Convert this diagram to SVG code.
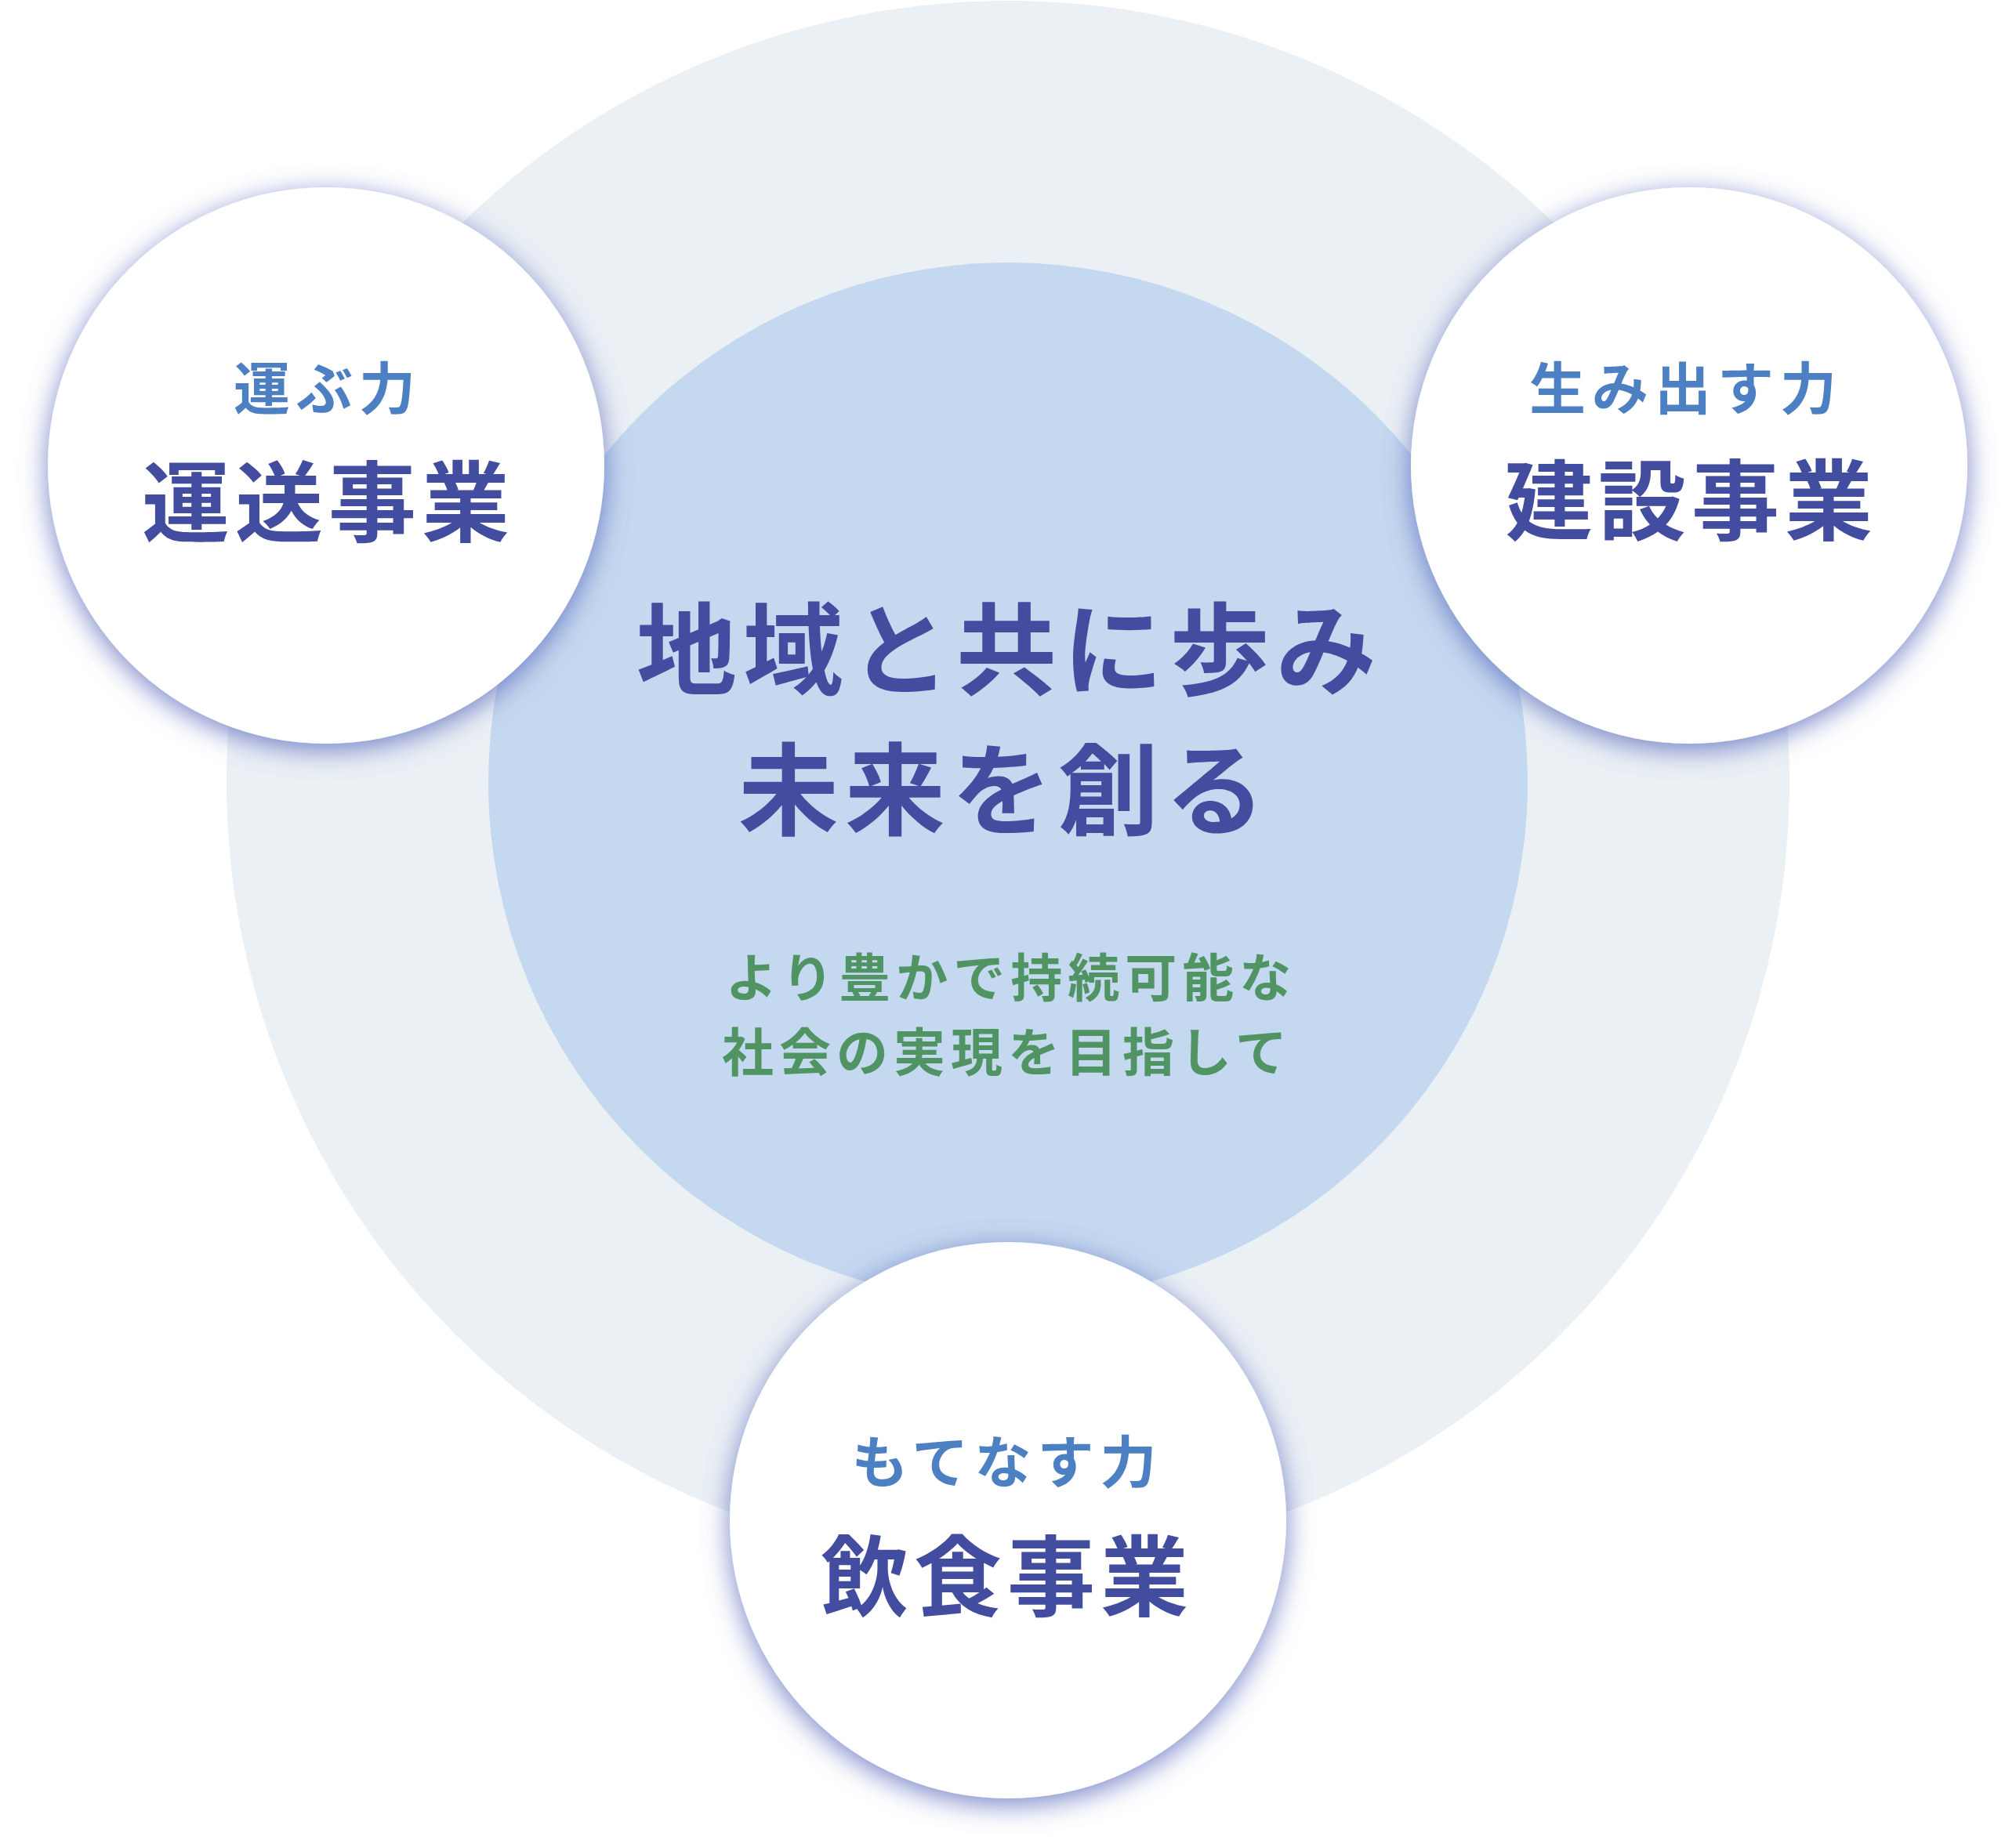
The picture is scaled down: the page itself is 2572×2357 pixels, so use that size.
<svg xmlns="http://www.w3.org/2000/svg" width="2572" height="2357" viewBox="0 0 2572 2357">
  <defs>
    <filter id="glow" x="-30%" y="-30%" width="160%" height="160%">
      <feDropShadow dx="0" dy="8" stdDeviation="17" flood-color="#5668BC" flood-opacity="0.8"/>
    </filter>
  </defs>
  <style>
    .jp { font-family: "Noto Sans CJK JP", "Noto Sans CJK SC", sans-serif; font-weight: 700; text-anchor: middle; }
    .sub { font-size: 72px; fill: #4D80C2; letter-spacing: 8px; }
    .main { font-size: 112px; fill: #424D9F; letter-spacing: 7px; }
    .title { font-size: 128px; fill: #424D9F; letter-spacing: 8px; }
    .green { font-size: 66px; fill: #4F9462; letter-spacing: 7px; }
    .node { fill: #FFFFFF; filter: url(#glow); }
  </style>
  <rect width="2572" height="2357" fill="#FFFFFF"/>
  <g id="background">
    <circle cx="1286" cy="998" r="997" fill="#EBF0F5"/>
  </g>
  <g id="center">
    <circle cx="1286" cy="998" r="663" fill="#C4D8EF"/>
    <text class="jp title" x="1288" y="877">地域と共に歩み</text>
    <text class="jp title" x="1282" y="1056">未来を創る</text>
    <text class="jp green" x="1290" y="1272">より豊かで持続可能な</text>
    <text class="jp green" x="1285" y="1367">社会の実現を目指して</text>
  </g>
  <g id="connectors"></g>
  <g id="transport">
    <circle class="node" cx="416" cy="594" r="355"/>
    <text class="jp sub" x="418" y="522">運ぶ力</text>
    <text class="jp main" x="419" y="683">運送事業</text>
  </g>
  <g id="construction">
    <circle class="node" cx="2155" cy="594" r="355"/>
    <text class="jp sub" x="2151" y="522">生み出す力</text>
    <text class="jp main" x="2158" y="681">建設事業</text>
  </g>
  <g id="food">
    <circle class="node" cx="1286" cy="1940" r="355"/>
    <text class="jp sub" x="1285" y="1892">もてなす力</text>
    <text class="jp main" x="1285" y="2054">飲食事業</text>
  </g>
</svg>
